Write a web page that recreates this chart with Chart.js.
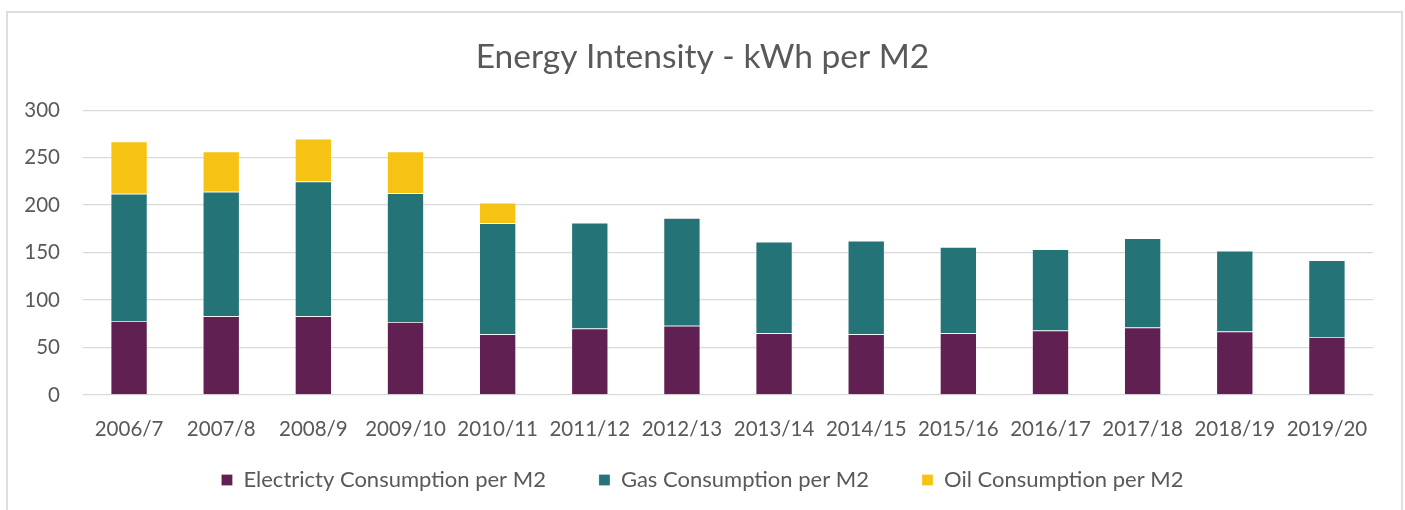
<!DOCTYPE html>
<html>
<head>
<meta charset="utf-8">
<script src="https://cdn.jsdelivr.net/npm/chart.js@4.4.0/dist/chart.umd.min.js"></script>
<style>
  html, body { margin: 0; padding: 0; background: #fff; overflow: hidden; }
  #wrap { position: relative; width: 1405px; height: 510px; }
  #frame {
    position: absolute; left: 6px; top: 11px; width: 1393px; height: 600px;
    border: 2px solid #dedede; pointer-events: none;
  }
</style>
</head>
<body>
<div id="wrap">
  <canvas id="energyChart" width="1405" height="510"></canvas>
  <div id="frame"></div>
</div>
<script>
const years = [
    '2006/7', '2007/8', '2008/9', '2009/10', '2010/11', '2011/12', '2012/13',
    '2013/14', '2014/15', '2015/16', '2016/17', '2017/18', '2018/19', '2019/20'
];
const electricity = [78, 83, 83, 77, 64, 70, 73, 65, 64, 65, 68, 71, 67, 61];
const gas = [134, 131, 142, 135.5, 117, 111.5, 113.5, 96.5, 98.5, 91, 85.5, 94, 85, 81];
const oil = [55, 42.5, 45, 44, 21.5, null, null, null, null, null, null, null, null, null];
const yTicks = [0, 50, 100, 150, 200, 250, 300];

const textColor = '#595959';
const fontFamily = 'Lato, "Open Sans", sans-serif';

// the legend needs wide gaps between items but sits close under the axis labels,
// so lift it up a bit once the layout is done
const legendLift = {
    id: 'legendLift',
    afterLayout(chart) {
        const lg = chart.legend;
        if (lg) {
            lg.top -= 24;
            lg.bottom -= 24;
        }
    }
};

const ctx = document.getElementById('energyChart').getContext('2d');

const energyChart = new Chart(ctx, {
    type: 'bar',
    data: {
        labels: years,
        datasets: [
            {
                label: 'Electricty Consumption per M2',
                data: electricity,
                backgroundColor: '#612052',
                borderColor: 'rgba(255,255,255,0.3)',
                borderWidth: 0.75
            },
            {
                label: 'Gas Consumption per M2',
                data: gas,
                backgroundColor: '#247477',
                borderColor: 'rgba(255,255,255,0.3)',
                borderWidth: 0.75
            },
            {
                label: 'Oil Consumption per M2',
                data: oil,
                backgroundColor: '#F6C315',
                borderColor: 'rgba(255,255,255,0.3)',
                borderWidth: 0.75
            }
        ]
    },
    plugins: [legendLift],
    options: {
        responsive: false,
        animation: false,
        layout: {
            padding: { left: 7, right: 7, top: 0, bottom: -15 }
        },
        datasets: {
            bar: {
                categoryPercentage: 1,
                barPercentage: 0.4
            }
        },
        scales: {
            x: {
                stacked: true,
                grid: { display: false },
                border: { display: false },
                ticks: {
                    color: textColor,
                    font: { family: fontFamily, size: 20.5 },
                    padding: 14,
                    autoSkip: false,
                    maxRotation: 0
                },
                afterFit: (scale) => { scale.height = 45; }
            },
            y: {
                stacked: true,
                min: 0,
                max: 300,
                afterBuildTicks: (scale) => {
                    scale.ticks = yTicks.map(v => ({ value: v }));
                },
                grid: {
                    color: '#d9d9d9',
                    lineWidth: 1.3,
                    drawTicks: false
                },
                border: { display: false },
                ticks: {
                    color: textColor,
                    font: { family: fontFamily, size: 20.5 },
                    padding: 23
                },
                afterFit: (scale) => { scale.width = 76; }
            },
            spacer: {
                position: 'right',
                display: true,
                grid: { display: false },
                border: { display: false },
                ticks: { display: false },
                afterFit: (scale) => { scale.width = 25; }
            }
        },
        plugins: {
            legend: {
                position: 'bottom',
                labels: {
                    color: textColor,
                    font: { family: fontFamily, size: 22 },
                    boxWidth: 11,
                    boxHeight: 11,
                    padding: 53
                }
            },
            title: {
                display: true,
                text: 'Energy Intensity - kWh per M2',
                color: textColor,
                font: { family: fontFamily, size: 33.5, weight: 'normal' },
                padding: { top: 37, bottom: 33 }
            },
            tooltip: { enabled: false }
        }
    }
});
</script>
</body>
</html>
